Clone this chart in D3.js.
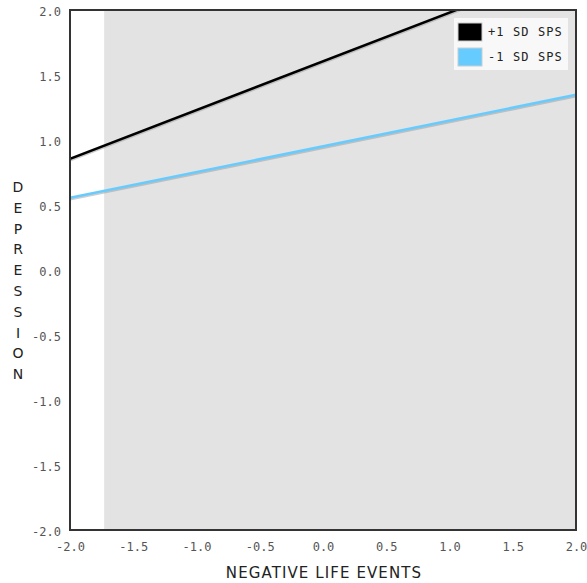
<!DOCTYPE html>
<html>
<head>
<meta charset="utf-8">
<script src="https://cdn.jsdelivr.net/npm/d3@7"></script>
<style>
  body { margin: 0; background: #fff; }
  .tick text { font-family: "DejaVu Sans Mono", monospace; font-size: 12px; fill: #555; }
</style>
</head>
<body>
<div id="chart"></div>
<script>
// data
const xTicks = [-2.0, -1.5, -1.0, -0.5, 0.0, 0.5, 1.0, 1.5, 2.0];
const yTicks = [-2.0, -1.5, -1.0, -0.5, 0.0, 0.5, 1.0, 1.5, 2.0];
const seriesNames = ["+1 SD SPS", "-1 SD SPS"];
const seriesColors = ["#000000", "#66ccff"];
const highSPS = [[-2, 0.855], [2, 2.355]];
const lowSPS = [[-2, 0.555], [2, 1.348]];
const regionStart = -1.73;

const width = 587, height = 583;
const margin = { top: 10, right: 11, bottom: 53, left: 70 };

const svg = d3.select("#chart").append("svg")
    .attr("width", width)
    .attr("height", height);

const x = d3.scaleLinear().domain([-2, 2]).range([margin.left, width - margin.right]);
const y = d3.scaleLinear().domain([-2, 2]).range([height - margin.bottom, margin.top]);

svg.append("defs").append("clipPath").attr("id", "clip")
    .append("rect")
    .attr("x", x(-2)).attr("y", y(2))
    .attr("width", x(2) - x(-2)).attr("height", y(-2) - y(2));

// grey region
svg.append("rect")
    .attr("x", x(regionStart))
    .attr("y", y(2))
    .attr("width", x(2) - x(regionStart))
    .attr("height", y(-2) - y(2))
    .attr("fill", "#e3e3e3");

// lines
const line = d3.line().x(d => x(d[0])).y(d => y(d[1]));
const lines = svg.append("g").attr("clip-path", "url(#clip)");
[highSPS, lowSPS].forEach((s, i) => {
    lines.append("path")
        .datum(s)
        .attr("d", line)
        .attr("transform", "translate(0,1.5)")
        .attr("stroke", "#999")
        .attr("stroke-opacity", 0.5)
        .attr("stroke-width", 2.5)
        .attr("fill", "none");
    lines.append("path")
        .datum(s)
        .attr("d", line)
        .attr("stroke", seriesColors[i])
        .attr("stroke-width", 2.5)
        .attr("fill", "none");
});

// frame
svg.append("rect")
    .attr("x", x(-2)).attr("y", y(2))
    .attr("width", x(2) - x(-2)).attr("height", y(-2) - y(2))
    .attr("fill", "none")
    .attr("stroke", "#333")
    .attr("stroke-width", 2);

// axes (hyphen minus like the original)
const fmt = d => d3.format(".1f")(d).replace("\u2212", "-");
svg.append("g")
    .attr("transform", `translate(0,${y(-2)})`)
    .call(d3.axisBottom(x).tickValues(xTicks).tickFormat(fmt).tickSize(0).tickPadding(12))
    .call(g => g.select(".domain").remove());

svg.append("g")
    .attr("transform", `translate(${x(-2) - 9},2)`)
    .call(d3.axisLeft(y).tickValues(yTicks).tickFormat(fmt).tickSize(0).tickPadding(0))
    .call(g => g.select(".domain").remove());

// axis titles
svg.append("text")
    .attr("x", (x(-2) + x(2)) / 2 + 1)
    .attr("y", 578)
    .attr("text-anchor", "middle")
    .attr("font-family", "Verdana, 'DejaVu Sans', sans-serif")
    .attr("font-size", "15px")
    .attr("letter-spacing", "1.1px")
    .attr("fill", "#222")
    .text("NEGATIVE LIFE EVENTS");

const yTitle = "DEPRESSION".split("");
svg.append("g").selectAll("text")
    .data(yTitle)
    .join("text")
    .attr("x", 18)
    .attr("y", (d, i) => 192 + i * 20.8)
    .attr("text-anchor", "middle")
    .attr("font-family", "Verdana, 'DejaVu Sans', sans-serif")
    .attr("font-size", "14px")
    .attr("fill", "#222")
    .text(d => d);

// legend
const legend = svg.append("g").attr("transform", "translate(454,18)");
legend.append("rect")
    .attr("width", 114).attr("height", 52)
    .attr("fill", "#f8f8f8");
const items = legend.selectAll(".item")
    .data(seriesNames)
    .join("g")
    .attr("class", "item")
    .attr("transform", (d, i) => `translate(4,${5 + i * 25})`);
items.append("rect")
    .attr("width", 24).attr("height", 18)
    .attr("fill", (d, i) => seriesColors[i])
    .attr("stroke", "#ccc")
    .attr("stroke-width", 1);
items.append("text")
    .attr("x", 30)
    .attr("y", 9)
    .attr("dy", "0.35em")
    .attr("font-family", "'DejaVu Sans Mono', monospace")
    .attr("font-size", "12px")
    .attr("letter-spacing", "1.1px")
    .attr("fill", "#222")
    .text(d => d);
</script>
</body>
</html>
